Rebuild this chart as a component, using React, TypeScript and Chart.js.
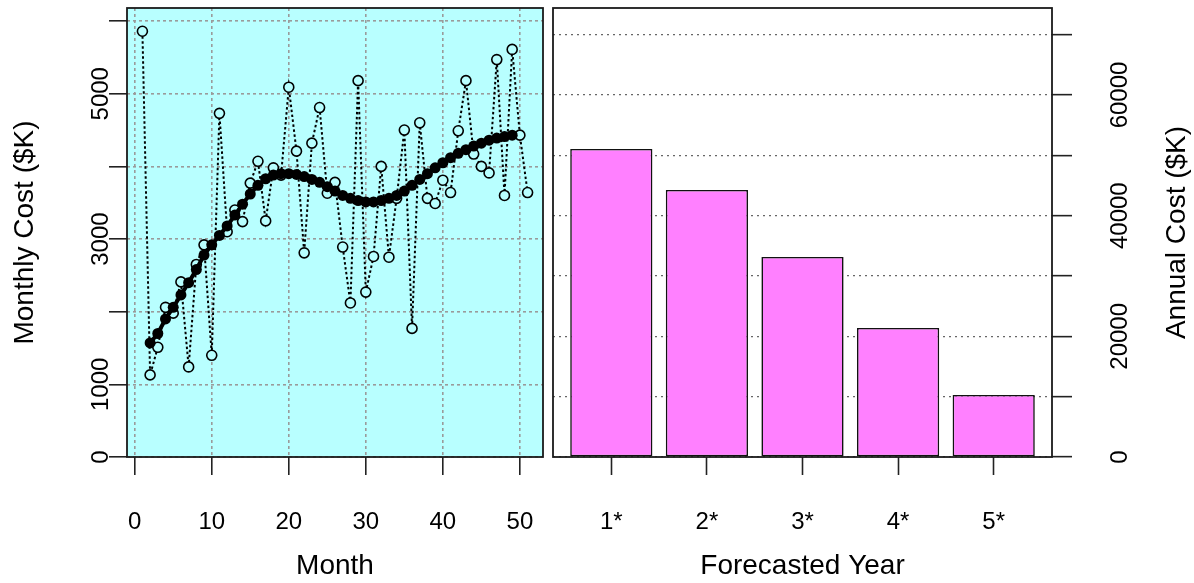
import React, { useEffect, useRef } from "react";
import { Chart, registerables } from "chart.js";

Chart.register(...registerables);

const FONT = "'Liberation Sans', Arial, Helvetica, sans-serif";

// ---------- Data ----------
const months = [1, 2, 3, 4, 5, 6, 7, 8, 9, 10, 11, 12, 13, 14, 15, 16, 17, 18, 19, 20, 21, 22, 23, 24, 25, 26, 27, 28, 29, 30, 31, 32, 33, 34, 35, 36, 37, 38, 39, 40, 41, 42, 43, 44, 45, 46, 47, 48, 49, 50, 51];
const monthlyCost = [
  5860, 1130, 1510, 2060, 1980, 2410, 1240, 2650, 2920, 1400,
  4730, 3100, 3400, 3240, 3770, 4070, 3250, 3980, 3880, 5090,
  4210, 2810, 4320, 4810, 3630, 3780, 2890, 2120, 5180, 2270,
  2760, 4000, 2750, 3560, 4500, 1770, 4600, 3560, 3490, 3810,
  3640, 4490, 5180, 4170, 4000, 3910, 5470, 3600, 5610, 4430,
  3640,
];
const trendMonths = [2, 3, 4, 5, 6, 7, 8, 9, 10, 11, 12, 13, 14, 15, 16, 17, 18, 19, 20, 21, 22, 23, 24, 25, 26, 27, 28, 29, 30, 31, 32, 33, 34, 35, 36, 37, 38, 39, 40, 41, 42, 43, 44, 45, 46, 47, 48, 49];
const trendCost = [
  1570, 1700, 1900, 2060, 2230, 2400, 2580, 2780, 2920, 3050,
  3180, 3330, 3480, 3620, 3740, 3830, 3880, 3900, 3900, 3890,
  3860, 3820, 3780, 3720, 3660, 3600, 3560, 3530, 3510, 3510,
  3530, 3560, 3600, 3660, 3740, 3820, 3900, 3980, 4050, 4120,
  4180, 4230, 4280, 4320, 4360, 4390, 4410, 4430,
];
const monthTicks = [0, 10, 20, 30, 40, 50];
const monthlyTicks = [0, 1000, 2000, 3000, 4000, 5000, 6000];
const monthlyTickLabels = ["0", "1000", "", "3000", "", "5000", ""];

const years = ["1*", "2*", "3*", "4*", "5*"];
const annualCost = [51050, 44260, 33150, 21380, 10280];
const annualTicks = [0, 10000, 20000, 30000, 40000, 50000, 60000, 70000];
const annualTickLabels = ["0", "", "20000", "", "40000", "", "60000", ""];

// ---------- Plugins ----------
const panelBg = {
  id: "panelBg",
  beforeDraw(chart: any, _args: any, opts: any) {
    if (!opts || !opts.color) return;
    const { ctx, chartArea } = chart;
    ctx.save();
    ctx.fillStyle = opts.color;
    ctx.fillRect(chartArea.left, chartArea.top, chartArea.right - chartArea.left, chartArea.bottom - chartArea.top);
    ctx.restore();
  },
};

const panelBox = {
  id: "panelBox",
  afterDraw(chart: any) {
    const { ctx, chartArea } = chart;
    ctx.save();
    ctx.strokeStyle = "#1a1a1a";
    ctx.lineWidth = 1.8;
    ctx.setLineDash([]);
    ctx.strokeRect(chartArea.left, chartArea.top, chartArea.right - chartArea.left, chartArea.bottom - chartArea.top);
    ctx.restore();
  },
};

const rightTitle = {
  id: "rightTitle",
  afterDraw(chart: any, _args: any, opts: any) {
    if (!opts || !opts.text) return;
    const s = chart.scales.y;
    const { ctx, chartArea } = chart;
    ctx.save();
    ctx.translate(s.right - 17, (chartArea.top + chartArea.bottom) / 2);
    ctx.rotate(-Math.PI / 2);
    ctx.font = `28px ${FONT}`;
    ctx.fillStyle = "#000";
    ctx.textAlign = "center";
    ctx.textBaseline = "middle";
    ctx.fillText(opts.text, 0, 0);
    ctx.restore();
  },
};

function setTicks(values: number[]) {
  return (scale: any) => {
    scale.ticks = values.map((v) => ({ value: v }));
  };
}

function fixSize(dim: "width" | "height", size: number) {
  return (s: any) => {
    s[dim] = size;
    s.paddingLeft = 0;
    s.paddingRight = 0;
    s.paddingTop = 0;
    s.paddingBottom = 0;
  };
}

export default function App() {
  const leftRef = useRef<HTMLCanvasElement | null>(null);
  const rightRef = useRef<HTMLCanvasElement | null>(null);

  useEffect(() => {
    Chart.defaults.font.family = FONT;
    Chart.defaults.color = "#000";

    const left = new Chart(leftRef.current as HTMLCanvasElement, {
      type: "line",
      data: {
        datasets: [
          {
            label: "trend",
            data: trendMonths.map((m, i) => ({ x: m, y: trendCost[i] })),
            borderColor: "#000",
            borderWidth: 4,
            pointRadius: 5.5,
            pointBackgroundColor: "#000",
            pointBorderColor: "#000",
            pointBorderWidth: 0,
            tension: 0,
          },
          {
            label: "monthly",
            data: months.map((m, i) => ({ x: m, y: monthlyCost[i] })),
            borderColor: "#000",
            borderWidth: 2,
            borderDash: [2.5, 2.5],
            pointRadius: 5,
            pointBackgroundColor: "#B8FFFF",
            pointBorderColor: "#000",
            pointBorderWidth: 1.6,
            tension: 0,
          },
        ],
      },
      options: {
        responsive: false,
        animation: false,
        layout: { autoPadding: false, padding: { left: 0, right: 7, top: 8, bottom: 0 } },
        plugins: {
          legend: { display: false },
          tooltip: { enabled: false },
          panelBg: { color: "#B8FFFF" },
        } as any,
        scales: {
          x: {
            type: "linear",
            position: "bottom",
            min: -1,
            max: 53,
            afterBuildTicks: setTicks(monthTicks),
            afterFit: fixSize("height", 126),
            grid: { color: "#9a9a9a", lineWidth: 1.6, tickColor: "#222", tickWidth: 1.6, tickLength: 18, drawTicks: true },
            border: { display: false, dash: [3, 3] },
            ticks: { font: { size: 24 }, padding: 33, maxRotation: 0, autoSkip: false, callback: (v: any) => String(v) },
            title: { display: true, text: "Month", font: { size: 28 }, padding: { top: 0, bottom: 0 } },
          },
          y: {
            type: "linear",
            position: "left",
            min: 0,
            max: 6180,
            afterBuildTicks: setTicks(monthlyTicks),
            afterFit: fixSize("width", 127),
            grid: { color: "#9a9a9a", lineWidth: 1.6, tickColor: "#222", tickWidth: 1.6, tickLength: 18, drawTicks: true },
            border: { display: false, dash: [3, 3] },
            ticks: {
              font: { size: 24 },
              minRotation: 90,
              maxRotation: 90,
              crossAlign: "center",
              padding: -19,
              autoSkip: false,
              callback: (_v: any, i: number) => monthlyTickLabels[i],
            },
            title: { display: true, text: "Monthly Cost ($K)", font: { size: 28 }, padding: { top: 8, bottom: 0 } },
          },
        },
      } as any,
      plugins: [panelBg, panelBox],
    });

    const right = new Chart(rightRef.current as HTMLCanvasElement, {
      type: "bar",
      data: {
        datasets: [
          {
            label: "annual",
            data: years.map((_y, i) => ({ x: i, y: annualCost[i] })),
            backgroundColor: "#FF80FF",
            borderColor: "#111",
            borderWidth: 1.6,
            borderSkipped: false,
            barPercentage: 0.86,
            categoryPercentage: 1,
          },
        ],
      },
      options: {
        responsive: false,
        animation: false,
        layout: { autoPadding: false, padding: { left: 3, right: 0, top: 8, bottom: 0 } },
        plugins: {
          legend: { display: false },
          tooltip: { enabled: false },
          rightTitle: { text: "Annual Cost ($K)" },
        } as any,
        scales: {
          x: {
            type: "linear",
            position: "bottom",
            min: -0.61,
            max: 4.61,
            offset: false,
            afterBuildTicks: setTicks(years.map((_y, i) => i)),
            afterFit: fixSize("height", 126),
            grid: { offset: false, drawOnChartArea: false, drawTicks: true, tickColor: "#222", tickWidth: 1.6, tickLength: 18 },
            border: { display: false },
            ticks: { font: { size: 24 }, padding: 33, maxRotation: 0, autoSkip: false, callback: (_v: any, i: number) => years[i] },
            title: { display: true, text: "Forecasted Year", font: { size: 28 }, padding: { top: 0, bottom: 0 } },
          },
          y: {
            type: "linear",
            position: "right",
            min: 0,
            max: 74420,
            afterBuildTicks: setTicks(annualTicks),
            afterFit: fixSize("width", 142),
            grid: { color: "#666", lineWidth: 1.3, tickColor: "#222", tickWidth: 1.6, tickLength: 20, drawTicks: true },
            border: { display: false, dash: [2, 4] },
            ticks: {
              font: { size: 24 },
              minRotation: 90,
              maxRotation: 90,
              crossAlign: "center",
              padding: 14.6,
              autoSkip: false,
              callback: (_v: any, i: number) => annualTickLabels[i],
            },
          },
        },
      } as any,
      plugins: [panelBox, rightTitle],
    });

    return () => {
      left.destroy();
      right.destroy();
    };
  }, []);

  return (
    <div style={{ position: "fixed", left: 0, top: 0, width: 1194, height: 583, background: "#fff", overflow: "hidden" }}>
      <canvas ref={leftRef} width={550} height={583} style={{ position: "absolute", left: 0, top: 0 }} />
      <canvas ref={rightRef} width={644} height={583} style={{ position: "absolute", left: 550, top: 0 }} />
    </div>
  );
}
